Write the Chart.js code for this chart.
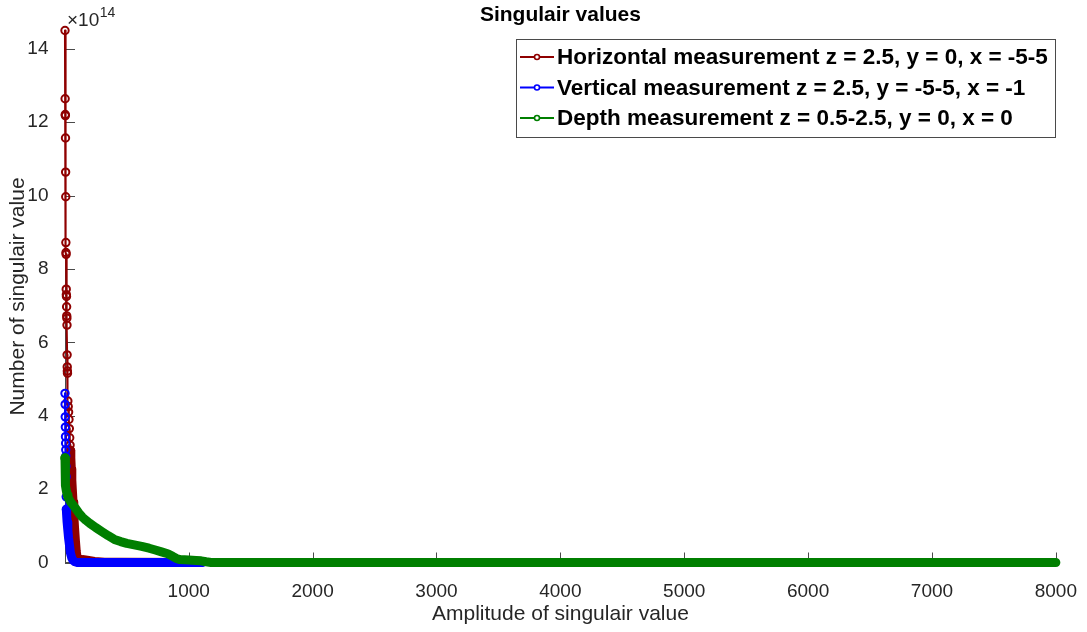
<!DOCTYPE html>
<html>
<head>
<meta charset="utf-8">
<title>Singulair values</title>
<script src="https://cdn.jsdelivr.net/npm/chart.js@4/dist/chart.umd.min.js"></script>
<style>
  html, body { margin: 0; padding: 0; background: #ffffff; }
  #wrap { width: 1087px; height: 632px; }
</style>
</head>
<body>
<div id="wrap"><canvas id="chart" width="1087" height="632"></canvas></div>
<script>
// Singular values of three measurement sets, indexed by rank (values in units of 1e14)
const EXPONENT = 14;
const UNIT = Math.pow(10, EXPONENT);

const horizontalIndex = [1, 2, 3, 4, 5, 6, 7, 8, 9, 10, 11, 12, 13, 14, 15, 16, 17, 18, 19, 20, 21,
  24, 27, 30, 33, 36, 39, 42, 45, 48, 52, 56, 60, 66, 72, 78, 85, 92, 98, 110, 140, 180, 240, 320, 450, 1100];
const horizontalValues = [14.50, 12.64, 12.21, 12.18, 11.57, 10.64, 9.97, 8.72, 8.45, 8.40, 7.45, 7.30, 7.25, 6.97, 6.72, 6.66, 6.47, 5.66, 5.33, 5.22, 5.16,
  4.40, 4.25, 4.10, 3.90, 3.65, 3.40, 3.20, 3.05, 2.85, 2.55, 2.25, 2.00, 1.65, 1.30, 0.95, 0.60, 0.30, 0.16, 0.10, 0.08, 0.06, 0.03, 0.01, 0.005, 0];

const verticalIndex = [1, 2, 3, 4, 5, 6, 7, 8, 9, 10, 11, 12, 14, 18, 24, 30, 38, 45, 55, 65, 80, 100, 1110];
const verticalValues = [4.61, 4.31, 3.97, 3.69, 3.43, 3.25, 3.07, 2.90, 2.62, 2.34, 1.79, 1.45, 1.30, 1.10, 0.88, 0.66, 0.45, 0.26, 0.13, 0.06, 0.02, 0, 0];

const depthIndex = [1, 2, 3, 5, 8, 12, 18, 25, 35, 50, 70, 90, 110, 140, 170, 200, 250, 300, 350, 400,
  450, 500, 560, 620, 680, 730, 780, 830, 870, 900, 930, 1000, 1060, 1100, 1140, 1180, 8000];
const depthValues = [2.85, 2.70, 2.50, 2.30, 2.10, 1.95, 1.85, 1.78, 1.72, 1.63, 1.55, 1.46, 1.36, 1.24, 1.15, 1.07, 0.95, 0.84, 0.73, 0.63,
  0.57, 0.52, 0.48, 0.44, 0.39, 0.34, 0.29, 0.24, 0.17, 0.11, 0.08, 0.065, 0.055, 0.045, 0.02, 0, 0];

const seriesLabels = [
  'Horizontal measurement z = 2.5, y = 0, x = -5-5',
  'Vertical measurement z = 2.5, y = -5-5, x = -1',
  'Depth measurement z = 0.5-2.5, y = 0, x = 0'
];

const xTickValues = [1000, 2000, 3000, 4000, 5000, 6000, 7000, 8000];
const yTickValues = [0, 2, 4, 6, 8, 10, 12, 14];

const chartTitle = 'Singulair values';
const xTitle = 'Amplitude of singulair value';
const yTitle = 'Number of singulair value';

// ---- styling ----
const FONT = '"Liberation Sans", Arial, Helvetica, sans-serif';
const AXIS_COLOR = '#4a4a4a';
const TEXT_COLOR = '#262626';
const COLORS = ['#8f0000', '#0000ff', '#007f00'];
// from which point on the circle markers crowd into a solid band
const BAND_FROM = [28, 11, 0];
const MARKER_R = 3.7;
const LINE_W = 2.1;
const BAND_W = 9;

function series(i, xs, ys) {
  const color = COLORS[i];
  const bandFrom = BAND_FROM[i];
  return {
    label: seriesLabels[i],
    order: 3 - i,
    data: xs.map((x, k) => ({ x: x, y: ys[k] * UNIT })),
    borderColor: color,
    backgroundColor: 'rgba(0,0,0,0)',
    borderWidth: LINE_W,
    borderCapStyle: 'round',
    borderJoinStyle: 'round',
    tension: 0,
    fill: false,
    clip: false,
    pointStyle: 'circle',
    pointRadius: c => (c.dataIndex <= bandFrom ? MARKER_R : 0),
    pointBorderWidth: 2,
    pointBorderColor: color,
    pointBackgroundColor: 'rgba(0,0,0,0)',
    segment: {
      borderWidth: c => (c.p0DataIndex >= bandFrom ? BAND_W : LINE_W)
    }
  };
}

const decorations = {
  id: 'decorations',
  beforeDatasetsDraw(chart) {
    const { ctx, chartArea: a, scales: { x, y } } = chart;
    ctx.save();
    ctx.strokeStyle = AXIS_COLOR;
    ctx.lineWidth = 1;
    ctx.beginPath();
    x.ticks.forEach(t => {
      const px = Math.round(x.getPixelForValue(t.value)) + 0.5;
      ctx.moveTo(px, a.bottom);
      ctx.lineTo(px, a.bottom - 10);
    });
    y.ticks.forEach(t => {
      const py = Math.round(y.getPixelForValue(t.value)) + 0.5;
      ctx.moveTo(a.left, py);
      ctx.lineTo(a.left + 10, py);
    });
    ctx.stroke();
    ctx.restore();
  },
  afterDraw(chart) {
    const { ctx, chartArea: a } = chart;
    ctx.save();

    // title
    ctx.fillStyle = '#000000';
    ctx.font = `bold 21px ${FONT}`;
    ctx.textAlign = 'center';
    ctx.textBaseline = 'alphabetic';
    ctx.fillText(chartTitle, (a.left + a.right) / 2, 21);

    // axis exponent
    ctx.fillStyle = TEXT_COLOR;
    ctx.textAlign = 'left';
    ctx.font = `19px ${FONT}`;
    ctx.fillText('\u00d710', a.left + 2, 26);
    const w = ctx.measureText('\u00d710').width;
    ctx.font = `14px ${FONT}`;
    ctx.fillText(String(EXPONENT), a.left + 2 + w + 0.5, 17);

    // legend
    const sets = chart.data.datasets;
    ctx.font = `bold 22.5px ${FONT}`;
    const textW = Math.max(...sets.map(d => ctx.measureText(d.label).width));
    const left = 516, top = 39, rowH = 30.5;
    const textX = left + 41;
    const boxW = textX - left + textW + 7;
    const boxH = rowH * sets.length + 6;
    ctx.fillStyle = '#ffffff';
    ctx.fillRect(left, top, boxW, boxH);
    ctx.strokeStyle = AXIS_COLOR;
    ctx.lineWidth = 1;
    ctx.strokeRect(Math.round(left) + 0.5, Math.round(top) + 0.5, Math.round(boxW), Math.round(boxH));
    sets.forEach((d, i) => {
      const cy = top + 18 + i * rowH;
      ctx.strokeStyle = d.borderColor;
      ctx.lineWidth = 2;
      ctx.beginPath();
      ctx.moveTo(left + 4, cy);
      ctx.lineTo(left + 38, cy);
      ctx.stroke();
      ctx.beginPath();
      ctx.arc(left + 21, cy, 2.5, 0, Math.PI * 2);
      ctx.fillStyle = '#ffffff';
      ctx.fill();
      ctx.lineWidth = 1.6;
      ctx.stroke();
      ctx.fillStyle = '#000000';
      ctx.textAlign = 'left';
      ctx.textBaseline = 'middle';
      ctx.fillText(d.label, textX, cy + 1);
    });
    ctx.restore();
  }
};

new Chart(document.getElementById('chart'), {
  type: 'line',
  data: {
    datasets: [
      series(0, horizontalIndex, horizontalValues),
      series(1, verticalIndex, verticalValues),
      series(2, depthIndex, depthValues)
    ]
  },
  options: {
    responsive: false,
    animation: false,
    devicePixelRatio: 1,
    events: [],
    layout: { padding: { left: 0, top: 30.5, right: 27.7, bottom: 0 } },
    plugins: {
      legend: { display: false },
      title: { display: false },
      tooltip: { enabled: false }
    },
    scales: {
      x: {
        type: 'linear',
        min: 1,
        max: 8000,
        afterFit: s => { s.height = 69.5; },
        afterBuildTicks: s => { s.ticks = xTickValues.map(v => ({ value: v })); },
        grid: { display: false },
        border: { display: true, color: AXIS_COLOR, width: 1 },
        ticks: {
          autoSkip: false,
          maxRotation: 0,
          padding: 10,
          color: TEXT_COLOR,
          font: { family: FONT, size: 19 },
          callback: v => String(v)
        },
        title: {
          display: true,
          text: xTitle,
          color: TEXT_COLOR,
          font: { family: FONT, size: 21 },
          padding: { top: 0, bottom: 5.4 }
        }
      },
      y: {
        type: 'linear',
        min: 0,
        max: 14.5 * UNIT,
        afterFit: s => { s.width = 65; },
        afterBuildTicks: s => { s.ticks = yTickValues.map(v => ({ value: v * UNIT })); },
        grid: { display: false },
        border: { display: true, color: AXIS_COLOR, width: 1 },
        ticks: {
          autoSkip: false,
          padding: 8.5,
          color: TEXT_COLOR,
          font: { family: FONT, size: 19 },
          callback: v => String(Math.round(v / UNIT))
        },
        title: {
          display: true,
          text: yTitle,
          color: TEXT_COLOR,
          font: { family: FONT, size: 21 },
          padding: { top: 5.5, bottom: 0 }
        }
      }
    }
  },
  plugins: [decorations]
});
</script>
</body>
</html>
